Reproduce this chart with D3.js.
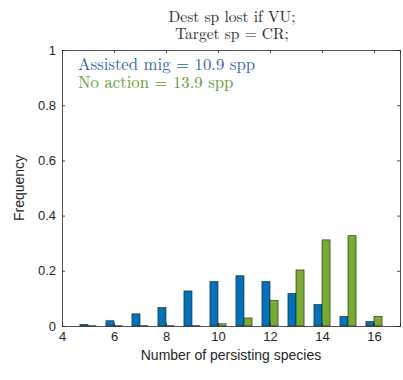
<!DOCTYPE html>
<html>
<head>
<meta charset="utf-8">
<script src="https://cdn.jsdelivr.net/npm/d3@7"></script>
<style>
  html, body { margin: 0; padding: 0; background: #fff; }
  svg { display: block; }
</style>
</head>
<body>
<svg id="chart" width="403" height="380"></svg>
<script>
// Number of persisting species (bin centres)
const species = [5, 6, 7, 8, 9, 10, 11, 12, 13, 14, 15, 16];
// Frequency for each management strategy
const assistedMig = [0.006, 0.019, 0.044, 0.067, 0.127, 0.161, 0.182, 0.161, 0.118, 0.078, 0.034, 0.016];
const noAction    = [0.001, 0.001, 0.001, 0.001, 0.001, 0.008, 0.029, 0.092, 0.203, 0.312, 0.327, 0.034];
const xTicks = [4, 6, 8, 10, 12, 14, 16];
const yTicks = [0, 0.2, 0.4, 0.6, 0.8, 1];
const titleLines = ["Dest sp lost if VU;", "Target sp = CR;"];
const legendLines = ["Assisted mig = 10.9 spp", "No action = 13.9 spp"];

const colors = ["#0072BD", "#77AC30"];
const textColors = ["#2f62b3", "#5f9a2e"];
const series = [assistedMig, noAction];

const svg = d3.select("#chart");
const plotL = 62, plotR = 400, plotT = 50, plotB = 326;

const x = d3.scaleLinear().domain([4, 17]).range([plotL, plotR]);
const y = d3.scaleLinear().domain([0, 1]).range([plotB, plotT]);
const barW = 0.31; // width in data units

const axisColor = "#262626";
const sans = "Helvetica, 'Liberation Sans', Arial, sans-serif";
const serif = "'Latin Modern Roman', 'CMU Serif', 'DejaVu Serif', serif";

// bars
series.forEach((vals, si) => {
  svg.append("g").selectAll("rect")
    .data(species.map((s, i) => ({ s, v: vals[i] })))
    .join("rect")
    .attr("x", d => si === 0 ? x(d.s - barW) : x(d.s))
    .attr("width", x(barW) - x(0))
    .attr("y", d => y(d.v))
    .attr("height", d => y(0) - y(d.v))
    .attr("fill", colors[si])
    .attr("stroke", "#1a1a1a")
    .attr("stroke-width", 0.6);
});

// axes with inward ticks, boxed
const tickLen = 3;
const xAxisB = d3.axisBottom(x).tickValues(xTicks).tickSize(-tickLen).tickPadding(6).tickFormat(d3.format("d"));
const xAxisT = d3.axisTop(x).tickValues(xTicks).tickSize(-tickLen).tickFormat("");
const yAxisL = d3.axisLeft(y).tickValues(yTicks).tickSize(-tickLen).tickPadding(6).tickFormat(d => d === 0 || d === 1 ? d3.format("d")(d) : d3.format(".1f")(d));
const yAxisR = d3.axisRight(y).tickValues(yTicks).tickSize(-tickLen).tickFormat("");

function style(g) {
  g.select(".domain").attr("stroke", axisColor).attr("stroke-width", 0.8);
  g.selectAll(".tick line").attr("stroke", axisColor).attr("stroke-width", 0.8);
  g.selectAll(".tick text").attr("fill", axisColor).attr("font-family", sans).attr("font-size", 13);
}
svg.append("g").attr("transform", `translate(0,${plotB})`).call(xAxisB).call(style);
svg.append("g").attr("transform", `translate(0,${plotT})`).call(xAxisT).call(style);
svg.append("g").attr("transform", `translate(${plotL},0)`).call(yAxisL).call(style);
svg.append("g").attr("transform", `translate(${plotR},0)`).call(yAxisR).call(style);

// axis labels
svg.append("text")
  .attr("x", (plotL + plotR) / 2).attr("y", 360)
  .attr("text-anchor", "middle")
  .attr("font-family", sans).attr("font-size", 14).attr("fill", axisColor)
  .text("Number of persisting species");
svg.append("text")
  .attr("transform", `translate(24,${(plotT + plotB) / 2}) rotate(-90)`)
  .attr("text-anchor", "middle")
  .attr("font-family", sans).attr("font-size", 14).attr("fill", axisColor)
  .text("Frequency");

// two-line title as one text block
const title = svg.append("text")
  .attr("text-anchor", "middle")
  .attr("font-family", serif).attr("font-size", 15.5).attr("fill", "#2a2a2a");
title.selectAll("tspan")
  .data(titleLines)
  .join("tspan")
  .attr("x", (plotL + plotR) / 2 + 1)
  .attr("y", (d, i) => 22 + i * 16.5)
  .text(d => d);

// legend block, one coloured line per strategy
const legend = svg.append("text")
  .attr("font-family", serif).attr("font-size", 16.7);
legend.selectAll("tspan")
  .data(legendLines)
  .join("tspan")
  .attr("x", 78)
  .attr("y", (d, i) => 70 + i * 18)
  .attr("fill", (d, i) => textColors[i])
  .text(d => d);
</script>
</body>
</html>
